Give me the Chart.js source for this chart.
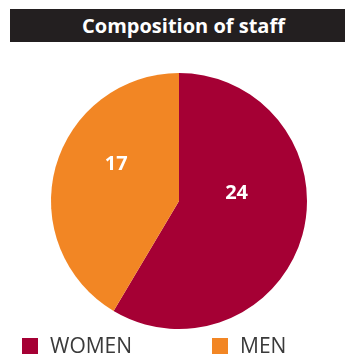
<!DOCTYPE html>
<html>
<head>
<meta charset="utf-8">
<script src="https://cdn.jsdelivr.net/npm/chart.js@4"></script>
<style>
    body { margin: 0; background: #fff; font-family: 'Open Sans', sans-serif; }
    .wrap { position: relative; width: 346px; height: 358px; overflow: hidden; }
    canvas { position: absolute; left: 0; top: 0; }
    .title-bar {
        position: absolute; left: 10px; top: 9px; width: 335px; height: 33px;
        background: #231f20; color: #fff; font-weight: 700; font-size: 20px;
        line-height: 33px; text-align: center; padding-left: 12px; box-sizing: border-box;
    }
    .legend-item { position: absolute; top: 332px; font-size: 21px; color: #3a3a3a; line-height: 26px; }
    .legend-item .box { position: absolute; left: 0; top: 6px; width: 16px; height: 16px; }
    .legend-item span.txt { position: absolute; left: 28px; top: 0; white-space: nowrap; }
</style>
</head>
<body>
<div class="wrap">
    <div class="title-bar">Composition of staff</div>
    <canvas id="staffChart" width="346" height="358"></canvas>
    <div id="legend"></div>
</div>
<script>
// Staff numbers
const labels = ['WOMEN', 'MEN'];
const counts = [24, 17];
const colors = ['#a50034', '#f28624'];
// where each value label sits, as a fraction of the radius from the centre
const labelOffsets = [[0.45, -0.06], [-0.49, -0.29]];
const legendLeft = [22, 212];

// Draw the numbers on top of the slices
const valueLabels = {
    id: 'valueLabels',
    afterDatasetsDraw(chart) {
        const ctx = chart.ctx;
        const meta = chart.getDatasetMeta(0);
        ctx.save();
        ctx.fillStyle = '#fff';
        ctx.font = 'bold 20px "Open Sans"';
        ctx.textAlign = 'center';
        ctx.textBaseline = 'middle';
        meta.data.forEach((arc, i) => {
            const r = arc.outerRadius;
            ctx.fillText(String(counts[i]), arc.x + labelOffsets[i][0] * r, arc.y + labelOffsets[i][1] * r);
        });
        ctx.restore();
    }
};

new Chart(document.getElementById('staffChart'), {
    type: 'pie',
    data: {
        labels: labels,
        datasets: [{
            data: counts,
            backgroundColor: colors,
            borderWidth: 0,
            hoverOffset: 0
        }]
    },
    options: {
        responsive: false,
        animation: false,
        layout: { padding: { left: 51, right: 39, top: 73, bottom: 29 } },
        plugins: {
            legend: { display: false },
            tooltip: { enabled: false }
        }
    },
    plugins: [valueLabels]
});

// Legend
const legend = document.getElementById('legend');
labels.forEach((name, i) => {
    const item = document.createElement('div');
    item.className = 'legend-item';
    item.style.left = legendLeft[i] + 'px';
    item.innerHTML = '<div class="box" style="background:' + colors[i] + '"></div><span class="txt">' + name + '</span>';
    legend.appendChild(item);
});
</script>
</body>
</html>
